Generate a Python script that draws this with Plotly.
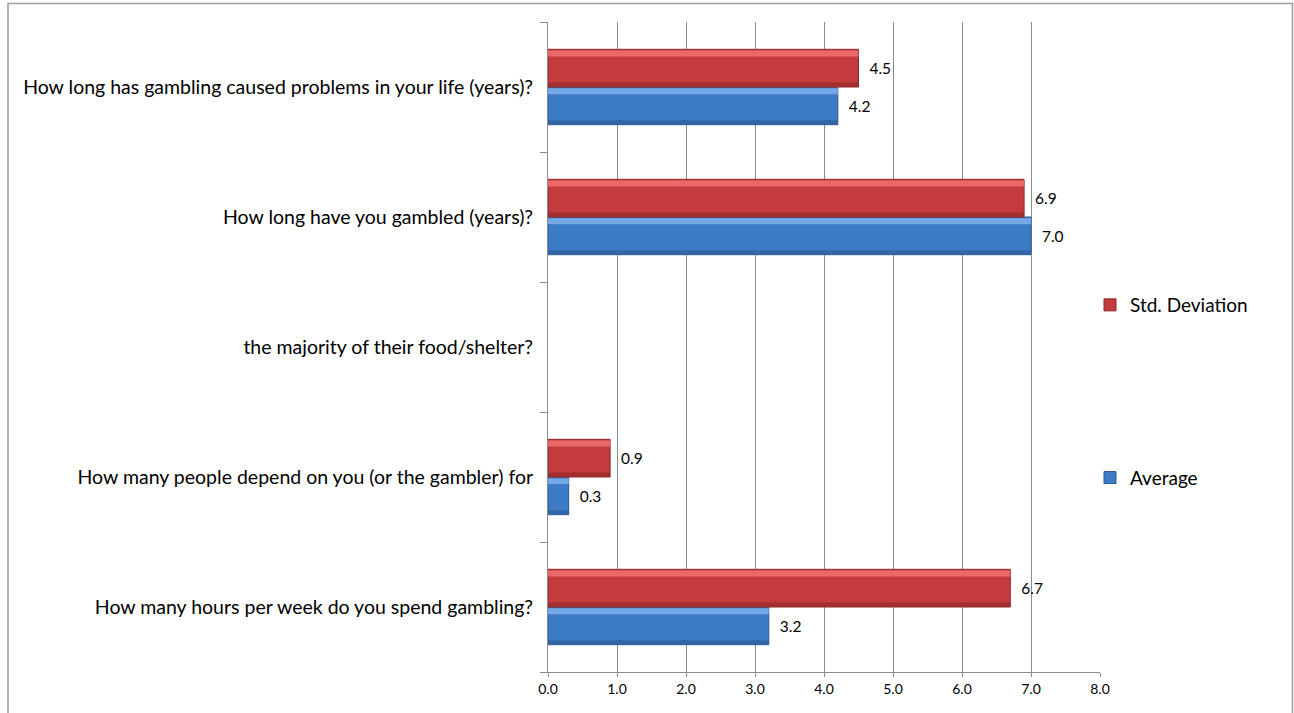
import plotly.graph_objects as go

categories = [
    "How many hours per week do you spend gambling?",
    "How many people depend on you (or the gambler) for",
    "the majority of their food/shelter?",
    "How long have you gambled (years)?",
    "How long has gambling caused problems in your life (years)?",
]
average = [3.2, 0.3, None, 7.0, 4.2]
std_dev = [6.7, 0.9, None, 6.9, 4.5]
x_ticks = [0, 1, 2, 3, 4, 5, 6, 7, 8]

W = 0.29          # bar thickness in category units
HL = 0.045        # highlight strip
SH = 0.03         # shadow strip

series = [
    # name, values, offset, main, light, dark, rank
    ("Average", average, -W, "#3d7bc6", "#74a8e6", "#2a5894", 2),
    ("Std. Deviation", std_dev, 0.0, "#c33b3c", "#eb6a69", "#8e2728", 1),
]

fig = go.Figure()
for name, vals, off, main, light, dark, rank in series:
    fig.add_trace(go.Bar(
        name=name, y=categories, x=vals, orientation="h",
        offset=off, width=W, legendgroup=name, legendrank=rank,
        marker=dict(color=main, line=dict(color=dark, width=1)),
        texttemplate="\u00a0\u00a0%{x:.1f}", textposition="outside",
        textfont=dict(size=15.5, color="#000000"), cliponaxis=False,
    ))
    fig.add_trace(go.Bar(
        y=categories, x=vals, orientation="h", showlegend=False,
        offset=off + W - HL - 0.01, width=HL, legendgroup=name,
        marker=dict(color=light, line=dict(width=0)), hoverinfo="skip",
    ))
    fig.add_trace(go.Bar(
        y=categories, x=vals, orientation="h", showlegend=False,
        offset=off + 0.005, width=SH, legendgroup=name,
        marker=dict(color=dark, opacity=0.6, line=dict(width=0)), hoverinfo="skip",
    ))

L, R, T, B = 548, 194, 22, 41
pw = 1294 - L - R
ph = 713 - T - B

def px(x):
    return (x - L) / pw

def py(y):
    return (713 - B - y) / ph

fig.update_layout(
    width=1294, height=713,
    margin=dict(l=L, r=R, t=T, b=B, pad=0),
    barmode="overlay",
    paper_bgcolor="white", plot_bgcolor="white",
    font=dict(family="Lato, Calibri, sans-serif", size=19, color="#000000"),
    showlegend=True,
    legend=dict(
        x=px(1090), y=py(286), xanchor="left", yanchor="top",
        traceorder="grouped", tracegroupgap=145,
        font=dict(size=19), itemwidth=30, bgcolor="rgba(0,0,0,0)",
    ),
    xaxis=dict(
        range=[0, 8], tickvals=x_ticks, tickformat=".1f",
        showgrid=True, gridcolor="#8c8c8c", gridwidth=1,
        showline=True, linecolor="#8c8c8c", linewidth=1,
        ticks="outside", ticklen=4, tickcolor="#8c8c8c",
        tickfont=dict(size=14), zeroline=False,
    ),
    yaxis=dict(
        categoryorder="array", categoryarray=categories,
        showgrid=False, showline=True, linecolor="#8c8c8c", linewidth=1,
        ticks="outside", tickson="boundaries", ticklen=7, tickcolor="#8c8c8c",
        tickfont=dict(size=19.5), zeroline=False, ticklabelstandoff=10,
    ),
    shapes=[dict(
        type="rect", xref="paper", yref="paper",
        x0=px(8), x1=px(1292.5), y0=py(740), y1=py(3.5),
        line=dict(color="#9f9f9f", width=1.6), fillcolor="rgba(0,0,0,0)", layer="below",
    )],
)

fig.write_html(
    "out.html",
    config={"displayModeBar": False},
    post_script="document.body.style.margin='0';document.body.style.overflow='hidden';",
)
